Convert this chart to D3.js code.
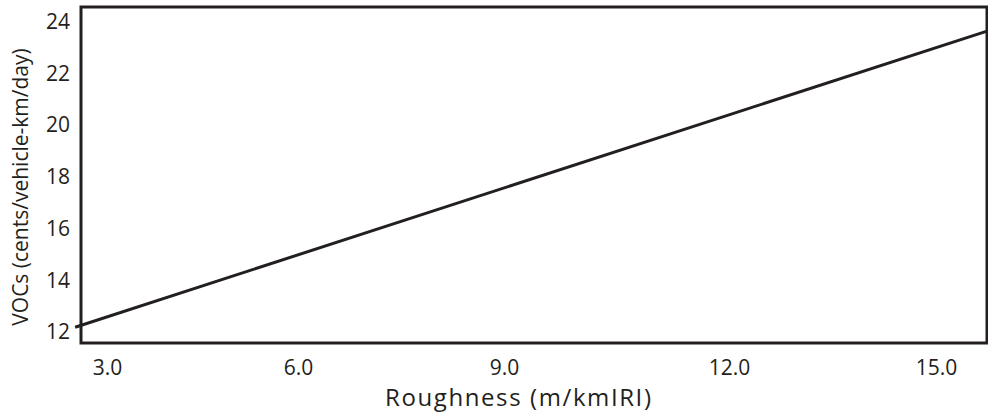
<!DOCTYPE html>
<html>
<head>
<meta charset="utf-8">
<script src="https://cdn.jsdelivr.net/npm/d3@7/dist/d3.min.js"></script>
<style>
  body { margin: 0; background: #fff; }
  svg { display: block; font-family: "Open Sans", Lato, sans-serif; }
  .axis text { fill: #231f20; font-size: 21px; font-family: "Open Sans", Lato, sans-serif; }
  .axis path, .axis line { display: none; }
</style>
</head>
<body>
<div id="chart"></div>
<script>
// Data (roughness in m/km IRI, VOCs in cents/vehicle-km/day)
const roughness = [2.5, 15.74]
const vocs = [12.19, 23.63]
const xTicks = [3, 6, 9, 12, 15]
const yTicks = [12, 14, 16, 18, 20, 22, 24]

const width = 988
const height = 412
const plot = {left: 81, top: 7, right: 987, bottom: 343}
const ink = "#231f20"

const svg = d3.select("#chart")
  .append("svg")
  .attr("width", width)
  .attr("height", height)

// The printed tick labels are not quite evenly spaced, so map them piecewise.
const xScale = d3.scaleLinear()
  .domain(xTicks)
  .range([107, 298, 504, 729, 936])

const yScale = d3.scaleLinear()
  .domain([11.58, 24.56])
  .range([plot.bottom, plot.top])

// Frame around the plot area.
svg.append("rect")
  .attr("x", plot.left)
  .attr("y", plot.top)
  .attr("width", plot.right - plot.left)
  .attr("height", plot.bottom - plot.top)
  .attr("fill", "none")
  .attr("stroke", ink)
  .attr("stroke-width", 3)

// Axes (labels only, no tick marks).
svg.append("g")
  .attr("class", "axis")
  .attr("transform", "translate(0," + plot.bottom + ")")
  .call(d3.axisBottom(xScale)
    .tickValues(xTicks)
    .tickFormat(d3.format(".1f"))
    .tickSize(0)
    .tickPadding(17))

svg.append("g")
  .attr("class", "axis")
  .attr("transform", "translate(" + plot.left + ",0)")
  .call(d3.axisLeft(yScale)
    .tickValues(yTicks)
    .tickSize(0)
    .tickPadding(11))

// Axis titles.
svg.append("text")
  .attr("x", 518)
  .attr("y", 406)
  .attr("text-anchor", "middle")
  .attr("textLength", 266)
  .attr("lengthAdjust", "spacing")
  .attr("fill", ink)
  .style("font-size", "24px")
  .text("Roughness (m/kmIRI)")

svg.append("text")
  .attr("transform", "translate(28,187) rotate(-90)")
  .attr("text-anchor", "middle")
  .attr("fill", ink)
  .style("font-size", "21px")
  .text("VOCs (cents/vehicle-km/day)")

// The VOC line.
const line = d3.line()
  .x(function (d, i) { return xScale(roughness[i]) })
  .y(function (d) { return yScale(d) })

svg.append("path")
  .datum(vocs)
  .attr("d", line)
  .attr("fill", "none")
  .attr("stroke", ink)
  .attr("stroke-width", 3)
</script>
</body>
</html>
